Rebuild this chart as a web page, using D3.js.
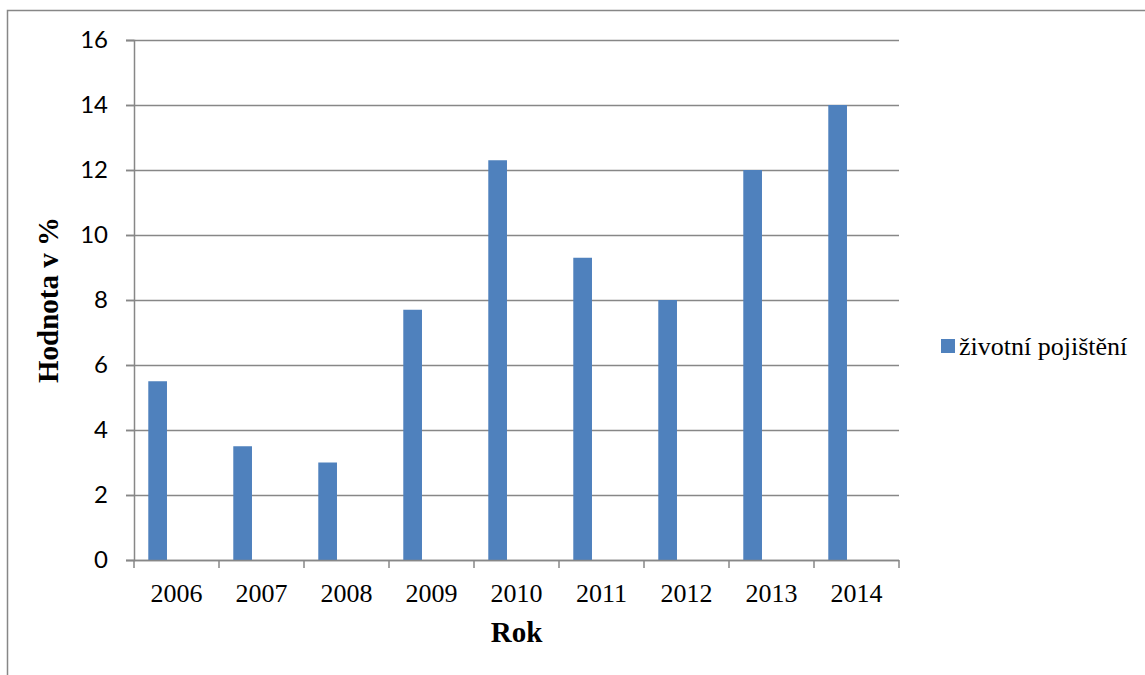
<!DOCTYPE html>
<html>
<head>
<meta charset="utf-8">
<script src="https://cdn.jsdelivr.net/npm/d3@7"></script>
<style>
  html, body { margin: 0; padding: 0; background: #fff; }
  svg { display: block; }
</style>
</head>
<body>
<div id="chart"></div>
<script>
  // data
  var years = ["2006", "2007", "2008", "2009", "2010", "2011", "2012", "2013", "2014"];
  var values = [5.5, 3.5, 3, 7.7, 12.3, 9.3, 8, 12, 14];
  var yTicks = [0, 2, 4, 6, 8, 10, 12, 14, 16];
  var seriesName = "životní pojištění";

  const WIDTH = 1145;
  const HEIGHT = 675;
  const BAR_COLOR = '#4F81BD';
  const GRID_COLOR = '#878787';
  const margin = { top: 40, right: 246, bottom: 115, left: 134 };

  var width = WIDTH - margin.left - margin.right;
  var height = HEIGHT - margin.top - margin.bottom;

  var svg = d3.select("#chart").append("svg")
    .attr("width", WIDTH)
    .attr("height", HEIGHT);

  // outer chart border
  svg.append("rect")
    .attr("x", 7.5)
    .attr("y", 10.5)
    .attr("width", WIDTH)
    .attr("height", HEIGHT)
    .style("fill", "none")
    .style("stroke", GRID_COLOR)
    .style("stroke-width", 1.5);

  var g = svg.append("g")
    .attr("transform", "translate(" + margin.left + "," + margin.top + ")");

  var x = d3.scaleBand()
    .domain(years)
    .range([0, width])
    .padding(0);

  var y = d3.scaleLinear()
    .domain([0, 16])
    .range([height, 0]);

  // gridlines
  g.append("g")
    .selectAll("line")
    .data(yTicks)
    .enter().append("line")
    .attr("x1", -8)
    .attr("x2", width)
    .attr("y1", function (d) { return Math.round(y(d)) + 0.5; })
    .attr("y2", function (d) { return Math.round(y(d)) + 0.5; })
    .style("stroke", GRID_COLOR)
    .style("stroke-width", 1.5);

  // bars
  var barOffset = x.bandwidth() * 0.168;
  var barWidth = x.bandwidth() * 0.22;
  g.selectAll(".bar")
    .data(years.map(function (d, i) { return { year: d, value: values[i] }; }))
    .enter().append("rect")
    .attr("class", "bar")
    .attr("x", function (d) { return x(d.year) + barOffset; })
    .attr("width", barWidth)
    .attr("y", function (d) { return y(d.value); })
    .attr("height", function (d) { return height - y(d.value); })
    .style("fill", BAR_COLOR);

  // y axis
  var yAxis = g.append("g")
    .call(d3.axisLeft(y).tickValues(yTicks).tickSize(8).tickPadding(18).tickFormat(d3.format("d")));
  yAxis.select(".domain").style("stroke", GRID_COLOR).style("stroke-width", 1.5);
  yAxis.selectAll(".tick line").style("stroke", GRID_COLOR).style("stroke-width", 1.5);
  yAxis.selectAll("text")
    .style("font-family", "Lato, 'Open Sans', sans-serif")
    .style("font-size", "24px")
    .style("fill", "#000");

  // x axis
  var xAxis = g.append("g")
    .attr("transform", "translate(0," + height + ")")
    .call(d3.axisBottom(x).tickSize(0).tickPadding(24));
  xAxis.select(".domain").remove();
  xAxis.selectAll("text")
    .style("font-family", "'Liberation Serif', 'Times New Roman', serif")
    .style("font-size", "26px")
    .style("fill", "#000");

  // category boundary ticks
  g.append("g")
    .selectAll("line")
    .data(years.concat(["end"]))
    .enter().append("line")
    .attr("x1", function (d, i) { return i * x.step(); })
    .attr("x2", function (d, i) { return i * x.step(); })
    .attr("y1", height)
    .attr("y2", height + 8)
    .style("stroke", GRID_COLOR)
    .style("stroke-width", 1.5);

  g.append("line")
    .attr("x1", 0)
    .attr("x2", width)
    .attr("y1", height + 0.5)
    .attr("y2", height + 0.5)
    .style("stroke", GRID_COLOR)
    .style("stroke-width", 1.5);

  // axis titles
  g.append("text")
    .attr("x", width / 2)
    .attr("y", height + 82)
    .attr("text-anchor", "middle")
    .style("font-family", "'Liberation Serif', 'Times New Roman', serif")
    .style("font-weight", "bold")
    .style("font-size", "29px")
    .text("Rok");

  g.append("text")
    .attr("transform", "translate(-76," + (height / 2) + ") rotate(-90)")
    .attr("text-anchor", "middle")
    .style("font-family", "'Liberation Serif', 'Times New Roman', serif")
    .style("font-weight", "bold")
    .style("font-size", "29px")
    .text("Hodnota v %");

  // legend
  var legend = svg.append("g")
    .attr("transform", "translate(941,339)");
  legend.append("rect")
    .attr("width", 14)
    .attr("height", 14)
    .style("fill", BAR_COLOR);
  legend.append("text")
    .attr("x", 18)
    .attr("y", 16)
    .style("font-family", "'Liberation Serif', 'Times New Roman', serif")
    .style("font-size", "26px")
    .text(seriesName);
</script>
</body>
</html>
